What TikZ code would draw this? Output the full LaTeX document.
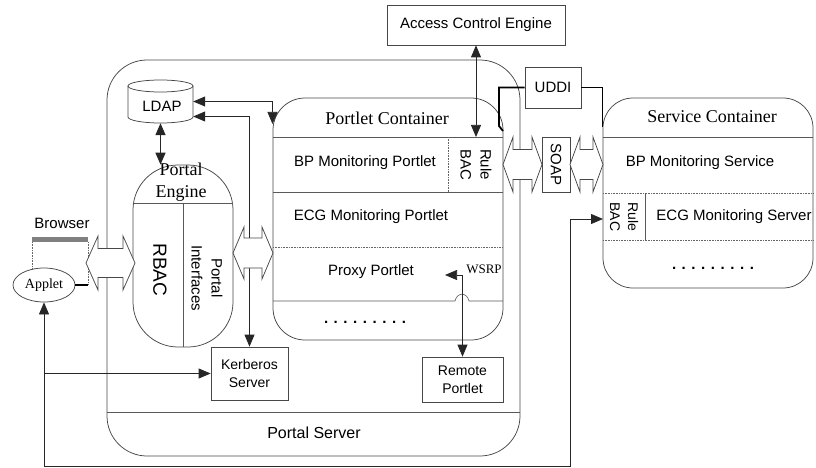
\documentclass[tikz,border=0pt]{standalone}
\usepackage{fontspec}
\setmainfont{Liberation Serif}
\setsansfont{Liberation Sans}
\usetikzlibrary{arrows.meta,shapes.geometric}
% two-headed block arrow: x-left, x-right, y-centre, head half-width, shaft half-width, head length
\newcommand\blockpair[6]{%
  \draw[outline, fill=white] (#1,#3) -- ({#1+#6},{#3-#4}) -- ({#1+#6},{#3-#5})
    -- ({#2-#6},{#3-#5}) -- ({#2-#6},{#3-#4}) -- (#2,#3) -- ({#2-#6},{#3+#4})
    -- ({#2-#6},{#3+#5}) -- ({#1+#6},{#3+#5}) -- ({#1+#6},{#3+#4}) -- cycle;}
\begin{document}
\begin{tikzpicture}[x=1pt,y=-1pt,
  >={Triangle[length=12pt,width=10pt]},
  outline/.style={draw=black!72, line width=0.75pt},
  rowline/.style={draw=black!65, line width=0.6pt},
  dotline/.style={draw=black!60, line width=0.6pt, densely dotted},
  conn/.style={draw=black!85, line width=0.75pt},
  heavy/.style={draw=black, line width=1.8pt},
  sans/.style={font=\sffamily\fontsize{15}{18}\selectfont, inner sep=0pt},
  serifhead/.style={font=\rmfamily\fontsize{18}{20}\selectfont, inner sep=0pt},
  boxnode/.style={outline, inner sep=0pt, align=center, font=\sffamily\fontsize{14}{18}\selectfont},
  container/.style={outline, inner sep=0pt},
]
\useasboundingbox (0,0) rectangle (816,468);

% ---------- portal server frame ----------
\node[container, rounded corners=40pt, minimum width=413pt, minimum height=396pt] (portal) at (313.5,258) {};
\draw[rowline] (107,412) -- (520,412);
\node[sans, font=\sffamily\fontsize{16}{18}\selectfont] (portaltxt) at (314,433) {Portal Server};

% ---------- portal engine ----------
\node[container, rounded corners=45pt, minimum width=100pt, minimum height=182pt] (engine) at (183,256) {};
\draw[rowline] (133.5,203) -- (232.5,203);
\draw[rowline] (183,203) -- (183,347);
\node[serifhead, align=center, font=\rmfamily\fontsize{18}{22}\selectfont] (enginetxt) at (181,182) {Portal\\Engine};
\node[sans, rotate=-90, font=\sffamily\fontsize{19}{22}\selectfont] (rbac) at (160,270) {RBAC};
\node[sans, rotate=-90, align=center, font=\sffamily\fontsize{15}{20}\selectfont] (pif) at (207,278) {Portal\\Interfaces};

% ---------- LDAP store ----------
\node[minimum width=65pt, minimum height=43pt, inner sep=0pt] (ldap) at (160.5,101.5) {};
\draw[outline] (128,86) -- (128,117) arc[start angle=180, end angle=360, x radius=32.5pt, y radius=6pt] -- (193,86);
\draw[outline] (160.5,86) ellipse [x radius=32.5pt, y radius=6pt];
\node[sans] (ldaptxt) at (162,106) {LDAP};

% ---------- browser with applet ----------
\node[outline, ellipse, minimum width=62pt, minimum height=34pt, inner sep=0pt,
      font=\rmfamily\fontsize{14}{16}\selectfont] (applet) at (44,285) {Applet};
\draw[line width=4.5pt, black!50] (32,239.5) -- (88,239.5);
\draw[dotline] (32,242) -- (32,269.5);
\draw[dotline] (88,242) -- (88,285);
\coordinate (appletport) at (88,285);
\draw[heavy] (applet.east) -- (appletport);
\node[sans] (browsertxt) at (62,223) {Browser};

% ---------- portlet container ----------
\node[container, rounded corners=32pt, minimum width=230pt, minimum height=242pt] (portlet) at (388,219) {};
\draw[rowline] (273,137) -- (503,137);
\draw[rowline] (273,192) -- (503,192);
\draw[dotline] (273,247) -- (503,247);
\draw[rowline] (273,301) -- (455,301) .. controls (457,292) and (467,292) .. (469,301) -- (503,301);
\draw[dotline] (448,137) -- (448,192);
\node[serifhead] (pctitle) at (387,118) {Portlet Container};
\node[sans] (bpportlet) at (365,163) {BP Monitoring Portlet};
\node[sans] (ecgportlet) at (371,217) {ECG Monitoring Portlet};
\node[sans] (proxy) at (371,272) {Proxy Portlet};
\node[inner sep=0pt, font=\rmfamily\fontsize{13}{15}\selectfont] (wsrp) at (484,269) {WSRP};
\node[sans, font=\sffamily\bfseries\fontsize{15}{18}\selectfont] (pcdots) at (365,322) {. . . . . . . . .};
\node[sans, rotate=-90, align=center, font=\sffamily\fontsize{15}{20}\selectfont] (pcrule) at (476,164.5) {Rule\\BAC};

% ---------- service container ----------
\node[container, rounded corners=30pt, minimum width=210pt, minimum height=190pt] (service) at (708,193) {};
\draw[rowline] (603,137) -- (813,137);
\draw[dotline] (603,193) -- (813,193);
\draw[dotline] (603,240) -- (813,240);
\draw[rowline] (645,193) -- (645,240);
\node[serifhead] (sctitle) at (712,117) {Service Container};
\node[sans] (bpservice) at (700,163) {BP Monitoring Service};
\node[sans] (ecgserver) at (734,217) {ECG Monitoring Server};
\node[sans, rotate=-90, align=center, font=\sffamily\fontsize{14}{18}\selectfont] (scrule) at (624,217) {Rule\\BAC};
\node[sans, font=\sffamily\bfseries\fontsize{15}{18}\selectfont] (scdots) at (713,268) {. . . . . . . . .};

% ---------- boxes ----------
\node[boxnode, minimum width=178pt, minimum height=40pt, font=\sffamily\fontsize{15}{18}\selectfont] (ace) at (476,25) {Access Control Engine};
\node[boxnode, minimum width=56pt, minimum height=41pt, font=\sffamily\fontsize{15}{18}\selectfont] (uddi) at (553,87.5) {UDDI};
\node[boxnode, minimum width=28pt, minimum height=55pt] (soap) at (556,164.5) {};
\node[sans, rotate=-90] (soaptxt) at (soap) {SOAP};
\node[boxnode, minimum width=77pt, minimum height=53pt] (kerb) at (249.5,373.5) {Kerberos\\Server};
\node[boxnode, minimum width=81pt, minimum height=45pt] (remote) at (462.5,379.5) {Remote\\Portlet};

% ---------- connectors ----------
\coordinate (rulebac) at (476,137);
\draw[conn,<->] (ace.south) -- (rulebac);
\draw[conn,<->, line width=1.4pt] (ldap.south) -- (ldap.south |- engine.north);
\coordinate (pccorner) at (272.5,124);
\draw[conn,<->] (ldap.east) -| (pccorner);
\draw[conn,<->] ([yshift=-15pt]ldap.east) -| (kerb.north);
\coordinate (proxyin) at (445,275);
\draw[conn,<->] (remote.north) |- (proxyin);

\coordinate (lowleft) at (44,466);
\coordinate (lowright) at (570,466);
\coordinate (svcin) at (603,219);
\draw[conn,<->] (applet.south) -- (lowleft) -- (lowright) |- (svcin);
\coordinate (kbranch) at (44,373.5);
\draw[conn,->] (kbranch) -- (kerb.west);

\coordinate (pcright) at (503,131);
\coordinate (scleft) at (602.5,127);
\draw[heavy] (uddi.west) -- (499,87.5) -- (499,126) -- (pcright);
\draw[heavy] (uddi.east) -| (scleft);

% ---------- block arrows between tiers ----------
\blockpair{86}{135}{263}{27}{14.5}{12}
\blockpair{233}{273}{253}{26}{15}{11}
\blockpair{503}{542}{164.5}{27.5}{15}{10}
\blockpair{570}{603}{164.5}{27.5}{15}{10}
\end{tikzpicture}
\end{document}
